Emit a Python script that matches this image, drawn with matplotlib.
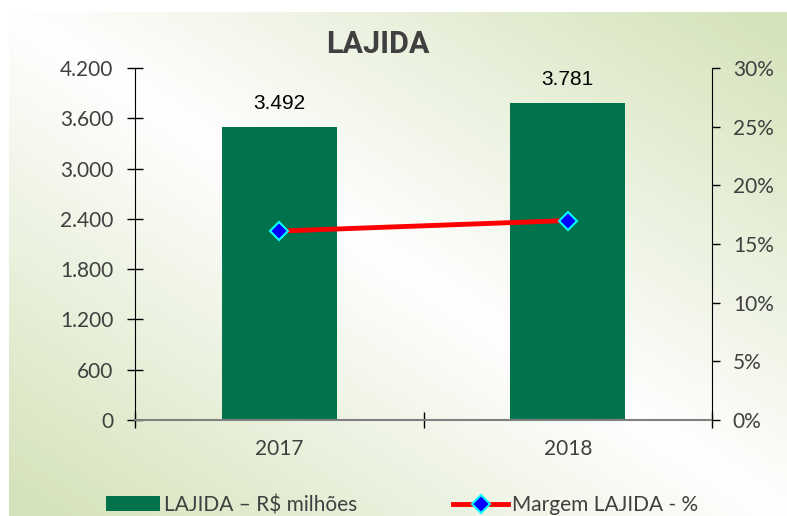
import numpy as np
import matplotlib.pyplot as plt
from matplotlib.lines import Line2D
from matplotlib.patches import Patch

# dados
anos = ['2017', '2018']
lajida = [3492, 3781]           # R$ milhoes
rotulos = ['3.492', '3.781']
margem = [16.1, 17.0]           # %
ticks_esq = [0, 600, 1200, 1800, 2400, 3000, 3600, 4200]
labels_esq = ['0', '600', '1.200', '1.800', '2.400', '3.000', '3.600', '4.200']
ticks_dir = [0, 5, 10, 15, 20, 25, 30]
labels_dir = ['0%', '5%', '10%', '15%', '20%', '25%', '30%']

verde_barra = '#00734c'
cinza = '#404040'
fonte = ['Lato', 'DejaVu Sans']

fig = plt.figure(figsize=(7.87, 5.16), dpi=100)

# fundo em degrade (branco na diagonal, verde nos cantos)
bg = fig.add_axes([9/787, 0, 1 - 9/787, 1 - 12/516])
u = np.linspace(0, 1, 400)[None, :]
v = np.linspace(0, 1, 300)[:, None]
t = np.clip(np.abs(u - v) * 1.05, 0, 1)
verde = np.array([213, 227, 187]) / 255
img = 1 - t[..., None] * (1 - verde)
bg.imshow(img, aspect='auto', interpolation='bilinear')
bg.axis('off')
bg.set_zorder(-10)

ax = fig.add_axes([135/787, 1 - 420/516, (712 - 135)/787, (420 - 68)/516])
ax.patch.set_alpha(0)
x = np.arange(len(anos))
ax.bar(x, lajida, width=0.4, color=verde_barra, zorder=2)
for xi, val, lab in zip(x, lajida, rotulos):
    ax.annotate(lab, (xi, val), xytext=(0, 10), textcoords='offset points',
                ha='center', va='bottom', fontsize=15, family='Liberation Sans', color='black')

ax.set_xlim(-0.5, 1.5)
ax.set_ylim(0, 4200)
ax.set_yticks(ticks_esq)
ax.set_yticklabels(labels_esq)
ax.tick_params(axis='y', direction='inout', length=11, width=1, colors='black',
               labelcolor=cinza, labelsize=15, pad=10)
ax.set_xticks([-0.5, 0.5, 1.5])
ax.set_xticklabels(['', '', ''])
ax.tick_params(axis='x', which='major', direction='inout', length=12, width=1, colors='black')
ax.set_xticks(x, minor=True)
ax.set_xticklabels(anos, minor=True)
ax.tick_params(axis='x', which='minor', length=0, labelsize=15, labelcolor=cinza, pad=14)
for lab in ax.get_xticklabels(minor=True) + ax.get_yticklabels():
    lab.set_family(fonte)
ax.spines['top'].set_visible(False)
ax.spines['right'].set_visible(False)
ax.spines['bottom'].set_color('#808080')
ax.spines['bottom'].set_linewidth(1.5)

ax2 = ax.twinx()
ax2.plot(x, margem, color='red', lw=3.5, marker='D', ms=9, mfc='blue', mec='cyan', mew=1.5,
         zorder=3)
ax2.set_ylim(0, 30)
ax2.set_yticks(ticks_dir)
ax2.set_yticklabels(labels_dir)
ax2.tick_params(axis='y', direction='out', length=6, width=1, colors='black',
                labelcolor=cinza, labelsize=15, pad=9)
for lab in ax2.get_yticklabels():
    lab.set_family(fonte)
for s in ['top', 'left', 'bottom']:
    ax2.spines[s].set_visible(False)

fig.text(378/787, 1 - 44/516, 'LAJIDA', ha='center', va='center', fontsize=22,
         fontweight='bold', color=cinza, family=['Roboto', 'DejaVu Sans'])

handles = [Patch(facecolor=verde_barra),
           Line2D([], [], color='red', lw=3.5, marker='D', ms=9, mfc='blue', mec='cyan', mew=1.5)]
fig.legend(handles, ['LAJIDA – R$ milhões', 'Margem LAJIDA - %'], loc='center left',
           bbox_to_anchor=(106/787, 11/516), ncol=2, frameon=False, borderpad=0,
           borderaxespad=0, handlelength=2.6, handletextpad=0.2, columnspacing=4.6,
           prop={'family': fonte, 'size': 15}, labelcolor=cinza)

fig.savefig('out.png', dpi=100)
